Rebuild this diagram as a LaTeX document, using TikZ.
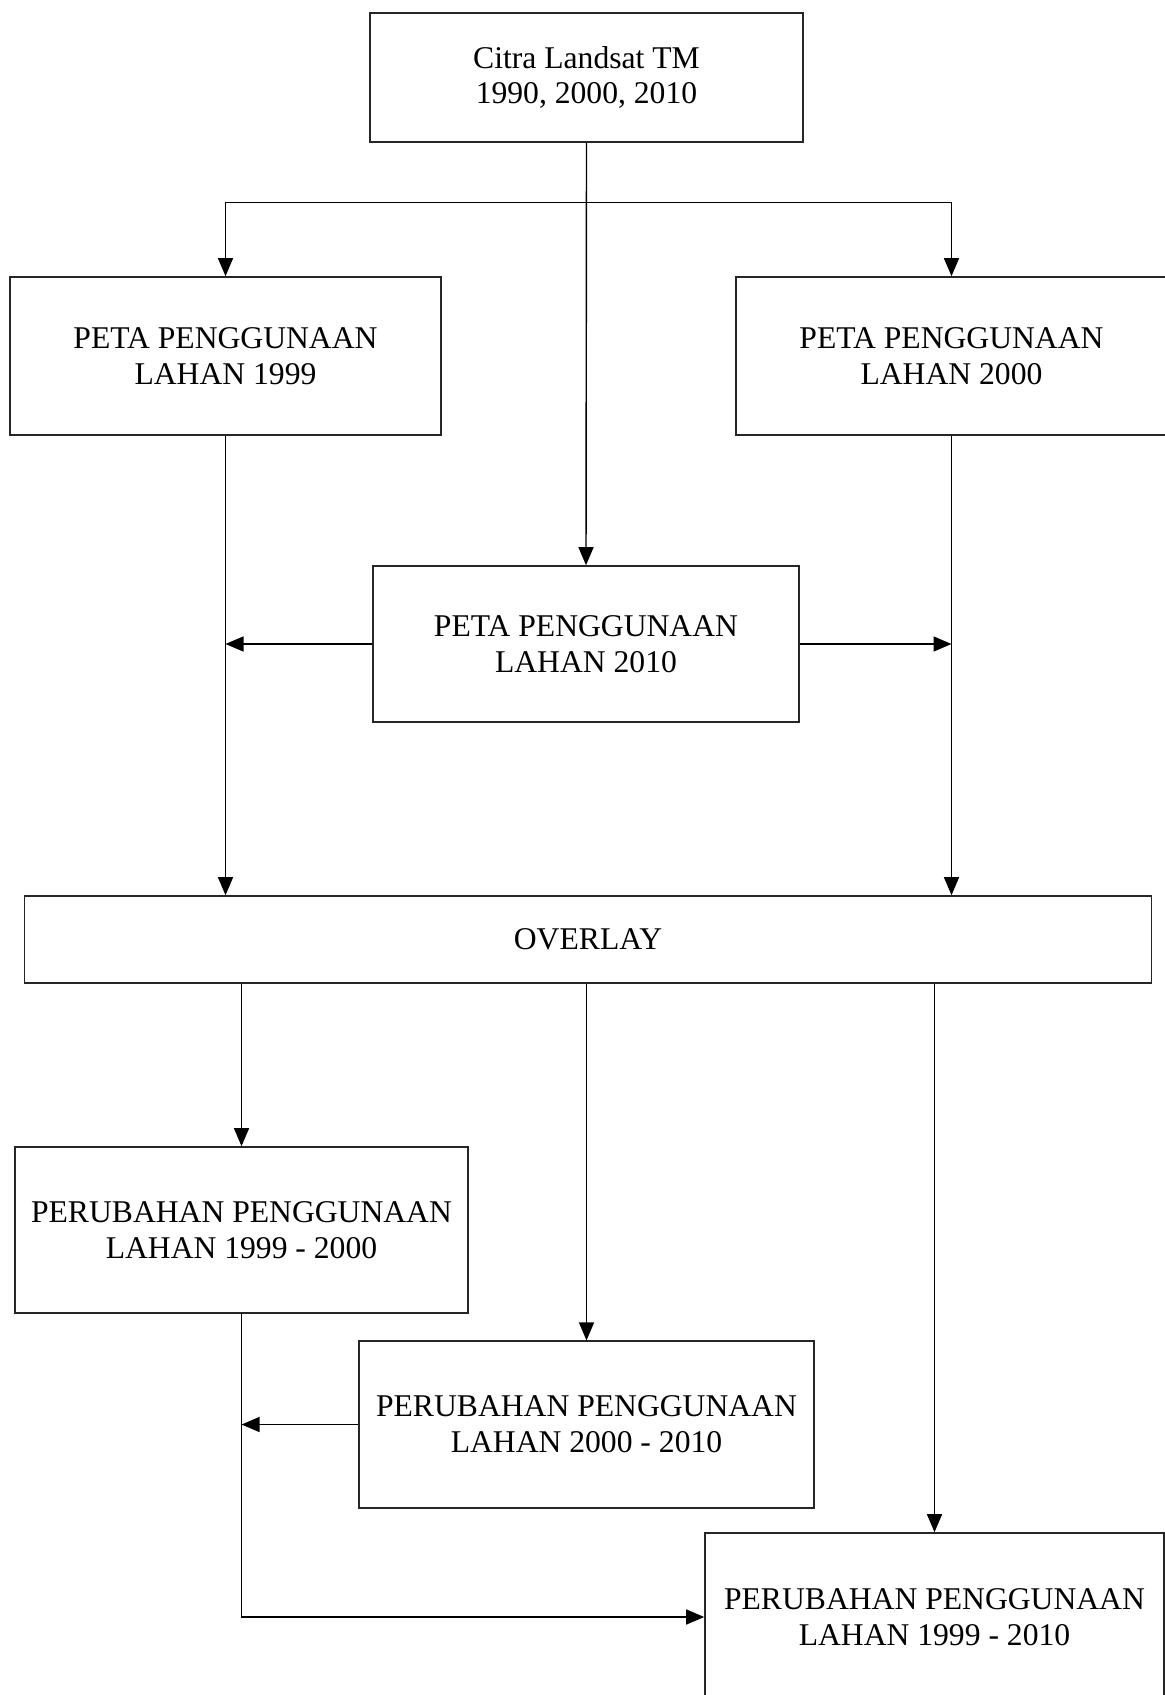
\documentclass[tikz,border=0pt]{standalone}
\usepackage{fontspec}
\setmainfont{Liberation Serif}
\usetikzlibrary{arrows.meta, calc}

\begin{document}
\begin{tikzpicture}[
  every node/.style={font=\fontsize{18}{20.4}\selectfont},
  box/.style={draw=black!85, line width=0.9pt, inner sep=0pt, align=center},
  conn/.style={draw=black, line width=0.8pt, -{Triangle[length=3.6mm, width=3mm]}},
]

% Page frame
\useasboundingbox (0,0) rectangle (23.28,-33.9);

% Source image
\node[box, minimum width=8.66cm, minimum height=2.58cm] (citra) at (11.73,-1.55) {Citra Landsat TM\\1990, 2000, 2010};

% Land use maps
\node[box, minimum width=8.62cm, minimum height=3.16cm] (peta99) at (4.51,-7.12) {PETA PENGGUNAAN\\LAHAN 1999};
\node[box, minimum width=8.62cm, minimum height=3.16cm] (peta00) at (19.03,-7.12) {PETA PENGGUNAAN\\LAHAN 2000};
\node[box, minimum width=8.52cm, minimum height=3.12cm] (peta10) at (11.72,-12.88) {PETA PENGGUNAAN\\LAHAN 2010};

% Overlay
\node[box, minimum width=22.54cm, minimum height=1.74cm] (overlay) at (11.76,-18.79) {OVERLAY};

% Change maps
\node[box, minimum width=9.06cm, minimum height=3.32cm] (rub9900) at (4.83,-24.6) {PERUBAHAN PENGGUNAAN\\LAHAN 1999 - 2000};
\node[box, minimum width=9.10cm, minimum height=3.33cm] (rub0010) at (11.73,-28.49) {PERUBAHAN PENGGUNAAN\\LAHAN 2000 - 2010};
\node[box, minimum width=9.18cm, minimum height=3.36cm] (rub9910) at (18.69,-32.34) {PERUBAHAN PENGGUNAAN\\LAHAN 1999 - 2010};

% Branch point below the source
\coordinate (split) at ($(citra.south)+(0,-1.2)$);

% Connectors from the source
\draw[conn] (citra.south) -- (peta10.north);
\draw[conn] (split) -| (peta99.north);
\draw[conn] (split) -| (peta00.north);

% Connectors into the overlay
\draw[conn] (peta99.south) -- (peta99.south |- overlay.north);
\draw[conn] (peta00.south) -- (peta00.south |- overlay.north);
\draw[conn] (peta10.west) -- (peta10.west -| peta99.south);
\draw[conn] (peta10.east) -- (peta10.east -| peta00.south);

% Connectors out of the overlay
\draw[conn] (rub9900.north |- overlay.south) -- (rub9900.north);
\draw[conn] (rub0010.north |- overlay.south) -- (rub0010.north);
\draw[conn] (rub9910.north |- overlay.south) -- (rub9910.north);

% Change connectors
\draw[conn] (rub9900.south) |- (rub9910.west);
\draw[conn] (rub0010.west) -- (rub0010.west -| rub9900.south);

\end{tikzpicture}
\end{document}
